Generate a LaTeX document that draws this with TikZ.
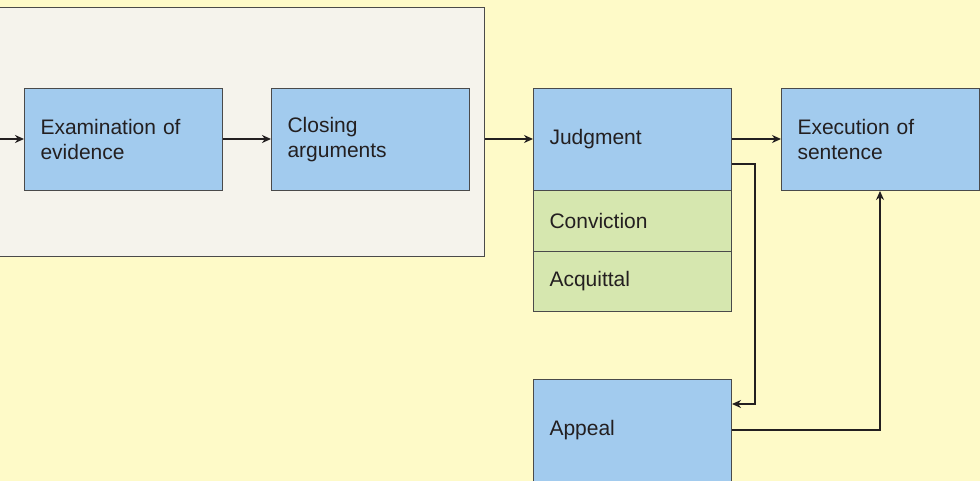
\documentclass[tikz,border=0pt]{standalone}
\usepackage{fontspec}
\setmainfont{Liberation Sans}
\usetikzlibrary{arrows.meta}
\definecolor{bgyellow}{HTML}{FEFAC8}
\definecolor{panelgray}{HTML}{F5F3EC}
\definecolor{boxblue}{HTML}{A2CBEE}
\definecolor{boxgreen}{HTML}{D6E7AF}
\definecolor{edgegray}{HTML}{4A4A4A}
\definecolor{ink}{HTML}{231F20}
\tikzset{
  box/.style={draw=edgegray, line width=1pt, fill=boxblue, anchor=north west,
    minimum width=198pt, minimum height=102pt, text width=166pt, inner xsep=16pt,
    align=left, font=\fontsize{21}{24.5}\selectfont, text=ink},
  gbox/.style={box, fill=boxgreen, minimum height=61pt},
  conn/.style={draw=ink, line width=2.8pt, -{Stealth[length=9pt,width=8pt]}},
}
\begin{document}
\begin{tikzpicture}[x=1pt,y=-1pt]
\fill[bgyellow] (0,0) rectangle (980,481);
\useasboundingbox (0,0) rectangle (980,481);
\begin{scope}
\clip (0,0) rectangle (980,481);
\node[draw=edgegray, line width=1pt, fill=panelgray, anchor=north west, minimum width=494pt, minimum height=249pt, inner sep=0pt] (panel) at (-10,7) {};
\coordinate (start) at (-5,139);
\node[box] (exam) at (24,88) {Examination of\\evidence};
\node[box] (close) at (271,88) {Closing\\arguments};
\node[box] (judg) at (533,88) {Judgment};
\node[gbox] (conv) at (533,190) {Conviction};
\node[gbox, minimum height=60pt] (acq) at (533,251) {Acquittal};
\node[box] (exec) at (781,88) {Execution of\\sentence};
\node[box] (appeal) at (533,379) {Appeal};
\draw[conn] (start) -- (exam.west |- 0,139);
\draw[conn] (exam.east |- 0,139) -- (close.west |- 0,139);
\draw[conn] (panel.east |- 0,139) -- (judg.west |- 0,139);
\draw[conn] (judg.east |- 0,139) -- (exec.west |- 0,139);
\draw[conn] (judg.east |- 0,164) -- (755,164) -- (755,404) -- (appeal.east |- 0,404);
\draw[conn] (appeal.east |- 0,430) -- (880,430) -- (exec.south -| 880,0);
\end{scope}
\end{tikzpicture}
\end{document}
